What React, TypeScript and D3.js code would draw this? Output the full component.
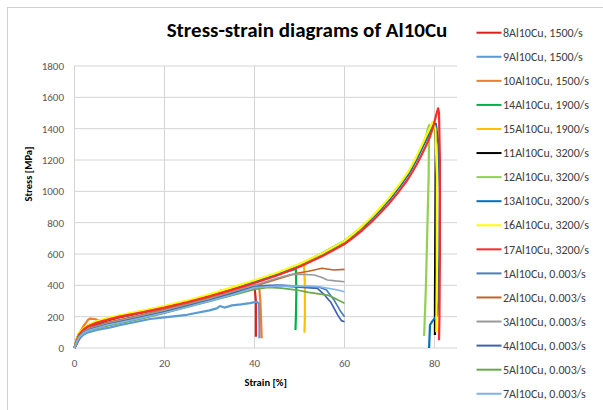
import React from 'react';
import * as d3 from 'd3';

// strain [%], stress [MPa] pairs
const al8_1500 = [[0,0],[0.5,25],[1,55],[2,90],[3,115],[5,150],[7,172],[10,195],[15,225],[20,255],[25,290],[30,330],[35,365],[38,385],[40,398],[40.3,300],[40.3,150],[40.3,72]];
const al9_1500 = [[0,0],[1,60],[2,85],[3,100],[5,115],[8,132],[10,145],[16.8,185],[20,195],[25,212],[30,240],[31.6,253],[32.3,268],[33.3,258],[35,272],[37,278],[39,286],[40.5,295],[41,285],[41.1,150],[41.1,62]];
const al10_1500 = [[0,0],[0.5,50],[1,90],[2,140],[3,180],[3.5,188],[4.5,185],[5.5,175],[7,182],[10,200],[15,228],[20,255],[25,288],[30,325],[32,345],[32.5,368],[33.2,355],[35,365],[38,388],[40,400],[41,398],[41.3,300],[41.5,150],[41.6,62]];
const al14_1900 = [[0,0],[0.5,55],[1,90],[2,120],[3,140],[5,165],[7,180],[10,202],[15,232],[20,262],[25,296],[30,335],[35,378],[40,422],[45,470],[48,495],[49.2,505],[49.3,350],[49.2,200],[49.1,115]];
const al15_1900 = [[0,0],[0.5,58],[1,93],[2,124],[3,145],[5,170],[7,186],[10,206],[15,236],[20,266],[25,300],[30,340],[35,384],[40,428],[45,476],[50,530],[51,538],[51.2,400],[51.2,200],[51.1,98]];
const al11_3200 = [[0,0],[0.5,55],[1,90],[2,122],[3,142],[5,165],[7,182],[10,203],[15,233],[20,263],[25,297],[30,337],[35,380],[40,425],[45,470],[50,528],[55,598],[60,677],[62,722],[64,771],[66,826],[68,886],[70,951],[72,1025],[74,1105],[75,1155],[76,1210],[77,1270],[78,1330],[79,1392],[79.7,1425],[80.1,1432],[80.3,1300],[80.2,800],[80.1,300],[80.1,83]];
const al12_3200 = [[0,0],[0.5,52],[1,88],[2,120],[3,140],[5,163],[7,180],[10,201],[15,231],[20,261],[25,295],[30,335],[35,378],[40,424],[45,472],[50,530],[55,600],[60,680],[62,725],[64,775],[66,830],[68,890],[70,955],[72,1030],[74,1110],[75,1160],[76,1215],[77,1275],[78,1340],[78.6,1405],[78.8,1423],[78.7,1100],[78.4,750],[78.1,400],[77.7,77]];
const al13_3200 = [[0,0],[0.5,50],[1,85],[2,118],[3,138],[5,160],[7,178],[10,199],[15,229],[20,259],[25,293],[30,333],[35,377],[40,423],[45,474],[50,533],[55,603],[60,684],[62,728],[64,776],[66,829],[68,887],[70,951],[72,1023],[74,1102],[75,1150],[76,1203],[77,1262],[78,1322],[79,1385],[79.8,1425],[80.3,1430],[80.9,1300],[81.2,1000],[81.1,600],[80.9,300],[80.6,210],[79.5,170],[79,147],[78.8,0]];
const al16_3200 = [[0,0],[0.5,60],[1,95],[2,125],[3,147],[5,172],[7,188],[10,208],[15,238],[20,268],[25,302],[30,342],[35,387],[40,432],[45,480],[50,536],[55,604],[60,684],[62,730],[64,780],[66,835],[68,896],[70,962],[72,1037],[74,1118],[75,1168],[76,1223],[77,1283],[78,1345],[79,1405],[79.6,1444],[80.2,1400],[80.5,1100],[80.5,500],[80.4,100]];
const al17_3200 = [[0,0],[0.5,50],[1,85],[2,118],[3,138],[5,162],[7,178],[10,200],[15,228],[20,258],[25,292],[30,330],[35,372],[40,415],[45,463],[50,518],[55,585],[60,663],[62,706],[64,753],[66,805],[68,863],[70,926],[72,996],[74,1074],[75,1120],[76,1170],[77,1225],[78,1285],[79,1350],[79.7,1410],[80.3,1480],[80.8,1530],[81,1500],[81.2,1200],[81.2,600],[81.1,200],[81,50]];
const al1_003 = [[0,0],[0.5,40],[1,70],[2,100],[3,115],[5,135],[7,150],[10,170],[15,200],[20,232],[25,270],[30,308],[35,350],[40,392],[43,400],[46,402],[50,393],[54.3,390],[56,370],[57.6,310],[59,240],[60,200]];
const al2_003 = [[0,0],[0.5,45],[1,75],[2,105],[3,122],[5,143],[7,160],[10,180],[15,212],[20,245],[25,280],[30,318],[35,355],[40,395],[45,440],[49.4,477],[52,490],[55,509],[57.6,498],[60,502]];
const al3_003 = [[0,0],[0.5,42],[1,72],[2,102],[3,118],[5,138],[7,155],[10,175],[15,207],[20,240],[25,276],[30,314],[35,356],[40,400],[45,445],[48,468],[50,472],[53.3,466],[55,450],[56.2,434],[58,428],[60,423]];
const al4_003 = [[0,0],[0.5,38],[1,68],[2,98],[3,113],[5,132],[7,148],[10,167],[15,197],[20,230],[25,267],[30,305],[35,347],[40,390],[45,398],[50,388],[54,380],[55.5,340],[57,290],[58.5,210],[59.3,175],[60,168]];
const al5_003 = [[0,0],[1,70],[2,95],[3,110],[5,125],[7,140],[10,157],[15,188],[20,222],[25,260],[30,297],[35,336],[40,374],[43,387],[46,382],[49.4,370],[52,355],[56.2,338],[58,315],[60,285]];
const al7_003 = [[0,0],[0.5,40],[1,68],[2,95],[3,110],[5,128],[7,145],[10,162],[15,192],[20,225],[25,262],[30,300],[35,340],[40,385],[45,395],[50,395],[54.3,391],[57,378],[58.5,370],[60,359]];

const seriesNames = ['8Al10Cu, 1500/s','9Al10Cu, 1500/s','10Al10Cu, 1500/s','14Al10Cu, 1900/s','15Al10Cu, 1900/s','11Al10Cu, 3200/s','12Al10Cu, 3200/s','13Al10Cu, 3200/s','16Al10Cu, 3200/s','17Al10Cu, 3200/s','1Al10Cu, 0.003/s','2Al10Cu, 0.003/s','3Al10Cu, 0.003/s','4Al10Cu, 0.003/s','5Al10Cu, 0.003/s','7Al10Cu, 0.003/s'];
const seriesData = [al8_1500, al9_1500, al10_1500, al14_1900, al15_1900, al11_3200, al12_3200, al13_3200, al16_3200, al17_3200, al1_003, al2_003, al3_003, al4_003, al5_003, al7_003];
const colors = ['#e01e1e','#5b9bd5','#ed7d31','#00b050','#ffc000','#000000','#92d050','#0070c0','#ffff00','#ff2a2a','#4a7ebb','#c0642a','#9a9a9a','#3e63ad','#6aa84f','#7fb4e6'];

const xTicks = [0, 20, 40, 60, 80];
const yTicks = [0, 200, 400, 600, 800, 1000, 1200, 1400, 1600, 1800];

const W = 603;
const H = 410;
const font = 'Carlito, Lato, "Open Sans", sans-serif';

export default function App() {
  const x = d3.scaleLinear().domain([0, 85]).range([74.5, 457]);
  const y = d3.scaleLinear().domain([0, 1800]).range([348, 66]);
  const line = d3.line<number[]>().x(d => x(d[0])).y(d => y(d[1]));

  return (
    <svg width={W} height={H} style={{ position: 'absolute', left: 0, top: 0, background: '#fff' }}>
      <rect x={7.5} y={7.5} width={700} height={500} fill="#fff" stroke="#d0d0d0" />

      {yTicks.map(t => (
        <line key={'gy' + t} x1={x(0)} x2={x(85)} y1={y(t)} y2={y(t)} stroke="#d4d4d4" strokeWidth={1} />
      ))}
      {xTicks.map(t => (
        <line key={'gx' + t} x1={x(t)} x2={x(t)} y1={y(0)} y2={y(1800)} stroke="#d4d4d4" strokeWidth={1} />
      ))}

      {yTicks.map(t => (
        <text key={'ty' + t} x={64} y={y(t)} dy="0.35em" textAnchor="end" fontSize={11} fill="#595959" fontFamily={font}>{t}</text>
      ))}
      {xTicks.map(t => (
        <text key={'tx' + t} x={x(t)} y={367} textAnchor="middle" fontSize={11} fill="#595959" fontFamily={font}>{t}</text>
      ))}

      {seriesData.map((d, i) => (
        <path key={'s' + i} d={line(d) || ''} fill="none" stroke={colors[i]} strokeWidth={i < 10 ? 2.2 : 1.7} strokeLinejoin="round" />
      ))}

      <text x={307} y={37} textAnchor="middle" fontSize={21} fontWeight="bold" fill="#000" fontFamily={font}>Stress-strain diagrams of Al10Cu</text>
      <text x={265.7} y={386} textAnchor="middle" fontSize={10.5} fontWeight="bold" fill="#000" fontFamily={font}>Strain [%]</text>
      <text transform="translate(32,174) rotate(-90)" textAnchor="middle" fontSize={10.5} fontWeight="bold" fill="#000" fontFamily={font}>Stress  [MPa]</text>

      {seriesNames.map((n, i) => {
        const ly = 32.7 + i * 24.07;
        return (
          <g key={'l' + i}>
            <line x1={476.5} x2={501.5} y1={ly} y2={ly} stroke={colors[i]} strokeWidth={2} />
            <text x={503} y={ly} dy="0.35em" fontSize={12} fill="#404040" fontFamily={font}>{n}</text>
          </g>
        );
      })}
    </svg>
  );
}
